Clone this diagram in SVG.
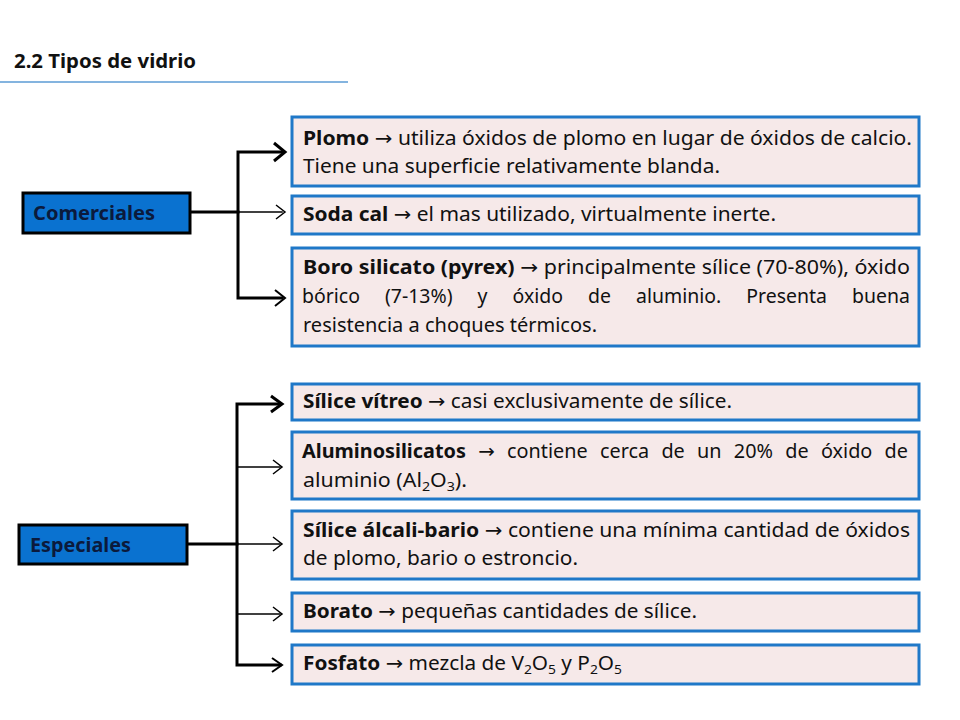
<svg xmlns="http://www.w3.org/2000/svg" width="960" height="720" viewBox="0 0 960 720">
<defs>
<style>
.t{font-family:"Noto Sans","Open Sans","Liberation Sans",sans-serif;font-size:19.5px;fill:#111}
.b{font-weight:bold}
.a{font-family:"DejaVu Sans",sans-serif;font-weight:normal}
.box{fill:#f6e9e9;stroke:#1f78c8;stroke-width:3}
.cat{fill:#0a72d0;stroke:#000;stroke-width:3}
.ct{font-family:"Noto Sans","Open Sans","Liberation Sans",sans-serif;font-size:19px;font-weight:bold;fill:#0b1a3c}
.ln{fill:none;stroke:#000;stroke-linecap:square}
.sub{font-size:13px}
</style>
</defs>
<rect width="960" height="720" fill="#fff"/>
<text x="14" y="68" class="t b" textLength="182" lengthAdjust="spacingAndGlyphs">2.2 Tipos de vidrio</text>
<line x1="0" y1="82" x2="348" y2="82" stroke="#5b9bd5" stroke-width="1.5"/>

<g id="connectors">
<line class="ln" x1="191" y1="212" x2="238" y2="212" stroke-width="3"/>
<polyline class="ln" points="282,152 238,152 238,298 282,298" stroke-width="3"/>
<line class="ln" x1="238" y1="212" x2="282" y2="212" stroke-width="1.5"/>
<polyline points="274,143 285,152 274,161" fill="none" stroke="#000" stroke-width="3"/>
<polyline points="276,205 285,212 276,219" fill="none" stroke="#000" stroke-width="1.5"/>
<polyline points="275,290 285,298 275,306" fill="none" stroke="#000" stroke-width="2"/>

<line class="ln" x1="188" y1="544" x2="237" y2="544" stroke-width="3"/>
<polyline class="ln" points="280,404 237,404 237,665 280,665" stroke-width="3"/>
<line class="ln" x1="237" y1="467" x2="280" y2="467" stroke-width="1.5"/>
<line class="ln" x1="237" y1="544" x2="280" y2="544" stroke-width="1.5"/>
<line class="ln" x1="237" y1="614" x2="280" y2="614" stroke-width="1.5"/>
<polyline points="271,396 282,404 271,412" fill="none" stroke="#000" stroke-width="3"/>
<polyline points="273,460 282,467 273,474" fill="none" stroke="#000" stroke-width="1.5"/>
<polyline points="273,537 282,544 273,551" fill="none" stroke="#000" stroke-width="1.5"/>
<polyline points="273,607 282,614 273,621" fill="none" stroke="#000" stroke-width="1.5"/>
<polyline points="272,658 282,665 272,672" fill="none" stroke="#000" stroke-width="2"/>
</g>

<g id="comerciales">
<rect class="cat" x="23" y="193" width="167" height="40"/>
<text x="33" y="220" class="ct" textLength="122" lengthAdjust="spacingAndGlyphs">Comerciales</text>
</g>
<g id="especiales">
<rect class="cat" x="19" y="525" width="168" height="39"/>
<text x="30" y="552" class="ct" textLength="101" lengthAdjust="spacingAndGlyphs">Especiales</text>
</g>

<g id="plomo">
<rect class="box" x="292" y="117" width="627" height="69"/>
<text x="303" y="145" class="t" textLength="609" lengthAdjust="spacingAndGlyphs"><tspan class="b">Plomo</tspan> <tspan class="a">→</tspan> utiliza óxidos de plomo en lugar de óxidos de calcio.</text>
<text x="303" y="173" class="t" textLength="417" lengthAdjust="spacingAndGlyphs">Tiene una superficie relativamente blanda.</text>
</g>
<g id="sodacal">
<rect class="box" x="292" y="196" width="627" height="38"/>
<text x="303" y="221" class="t" textLength="473" lengthAdjust="spacingAndGlyphs"><tspan class="b">Soda cal</tspan> <tspan class="a">→</tspan> el mas utilizado, virtualmente inerte.</text>
</g>
<g id="borosilicato">
<rect class="box" x="292" y="248" width="627" height="98"/>
<text x="303" y="274" class="t" textLength="607" lengthAdjust="spacingAndGlyphs"><tspan class="b">Boro silicato (pyrex)</tspan> <tspan class="a">→</tspan> principalmente sílice (70-80%), óxido</text>
<text x="302" y="303" class="t" word-spacing="20" textLength="608" lengthAdjust="spacingAndGlyphs">bórico (7-13%) y óxido de aluminio. Presenta buena</text>
<text x="303" y="332" class="t" textLength="294" lengthAdjust="spacingAndGlyphs">resistencia a choques térmicos.</text>
</g>
<g id="silicevitreo">
<rect class="box" x="292" y="384" width="627" height="36"/>
<text x="303" y="408" class="t" textLength="429" lengthAdjust="spacingAndGlyphs"><tspan class="b">Sílice vítreo</tspan> <tspan class="a">→</tspan> casi exclusivamente de sílice.</text>
</g>
<g id="aluminosilicatos">
<rect class="box" x="292" y="432" width="627" height="67"/>
<text x="302" y="458" class="t" word-spacing="7" textLength="606" lengthAdjust="spacingAndGlyphs"><tspan class="b">Aluminosilicatos</tspan> <tspan class="a">→</tspan> contiene cerca de un 20% de óxido de</text>
<text x="303" y="487" class="t" textLength="164" lengthAdjust="spacingAndGlyphs">aluminio (Al<tspan class="sub" dy="4">2</tspan><tspan dy="-4">O</tspan><tspan class="sub" dy="4">3</tspan><tspan dy="-4">).</tspan></text>
</g>
<g id="alcalibario">
<rect class="box" x="292" y="511" width="627" height="68"/>
<text x="303" y="537" class="t" textLength="607" lengthAdjust="spacingAndGlyphs"><tspan class="b">Sílice álcali-bario</tspan> <tspan class="a">→</tspan> contiene una mínima cantidad de óxidos</text>
<text x="303" y="565" class="t" textLength="275" lengthAdjust="spacingAndGlyphs">de plomo, bario o estroncio.</text>
</g>
<g id="borato">
<rect class="box" x="292" y="593" width="627" height="38"/>
<text x="303" y="618" class="t" textLength="394" lengthAdjust="spacingAndGlyphs"><tspan class="b">Borato</tspan> <tspan class="a">→</tspan> pequeñas cantidades de sílice.</text>
</g>
<g id="fosfato">
<rect class="box" x="292" y="645" width="627" height="39"/>
<text x="303" y="670" class="t" textLength="319" lengthAdjust="spacingAndGlyphs"><tspan class="b">Fosfato</tspan> <tspan class="a">→</tspan> mezcla de V<tspan class="sub" dy="4">2</tspan><tspan dy="-4">O</tspan><tspan class="sub" dy="4">5</tspan><tspan dy="-4"> y P</tspan><tspan class="sub" dy="4">2</tspan><tspan dy="-4">O</tspan><tspan class="sub" dy="4">5</tspan></text>
</g>
</svg>
